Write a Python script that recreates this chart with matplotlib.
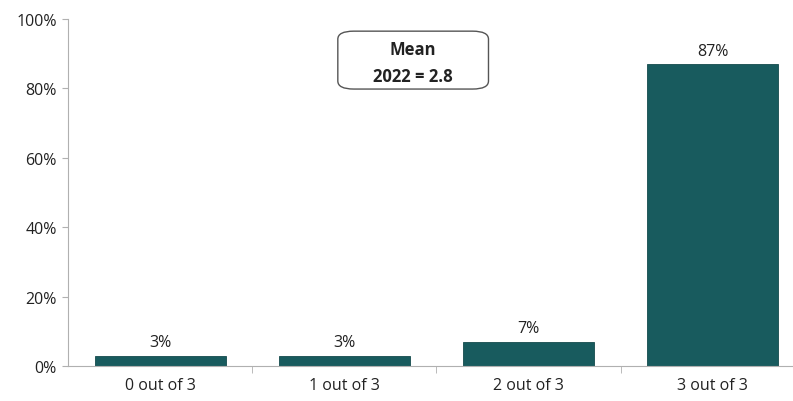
import matplotlib.pyplot as plt
from matplotlib.patches import FancyBboxPatch

categories = ["0 out of 3", "1 out of 3", "2 out of 3", "3 out of 3"]
values = [3, 3, 7, 87]
mean_text = "Mean\n2022 = 2.8"

plt.rcParams['font.family'] = ['Open Sans', 'DejaVu Sans']

fig = plt.figure(figsize=(7.93, 4.02), dpi=100)
ax = fig.add_axes([0.0858, 0.0871, 0.929, 0.863])

x = list(range(len(categories)))
bars = ax.bar(x, values, width=0.71, color="#185b5e", edgecolor="#144a4c", linewidth=0.6)

for xi, v in zip(x, values):
    ax.annotate(f"{v}%", (xi, v), xytext=(0, 4), textcoords="offset points",
                ha="center", va="bottom", fontsize=11.5, color="#222222")

ax.set_xlim(-0.5, 3.5)
ax.set_ylim(0, 100)
ax.set_yticks([0, 20, 40, 60, 80, 100])
ax.set_yticklabels([f"{t}%" for t in range(0, 101, 20)], fontsize=11.5, color="#222222")
ax.set_xticks(x)
ax.set_xticklabels(categories, fontsize=11.5, color="#222222")
ax.tick_params(axis="x", length=0, pad=8)
ax.set_xticks([0.5, 1.5, 2.5], minor=True)
ax.tick_params(axis="x", which="minor", length=5, color="#b0b0b0", direction="out")
ax.tick_params(axis="y", length=4, color="#b0b0b0", pad=4)

for side in ["top", "right"]:
    ax.spines[side].set_visible(False)
ax.spines["left"].set_color("#b0b0b0")
ax.spines["bottom"].set_color("#b0b0b0")

# mean callout box
box = FancyBboxPatch((0.426, 0.776), 0.190, 0.144, transform=fig.transFigure,
                     boxstyle="round,pad=0,rounding_size=0.02",
                     facecolor="white", edgecolor="#555555", linewidth=1.0)
fig.patches.append(box)
fig.text(0.521, 0.843, mean_text, ha="center", va="center", fontsize=12,
         fontweight="bold", linespacing=1.65, color="#222222")

fig.savefig("out.png", dpi=100)
